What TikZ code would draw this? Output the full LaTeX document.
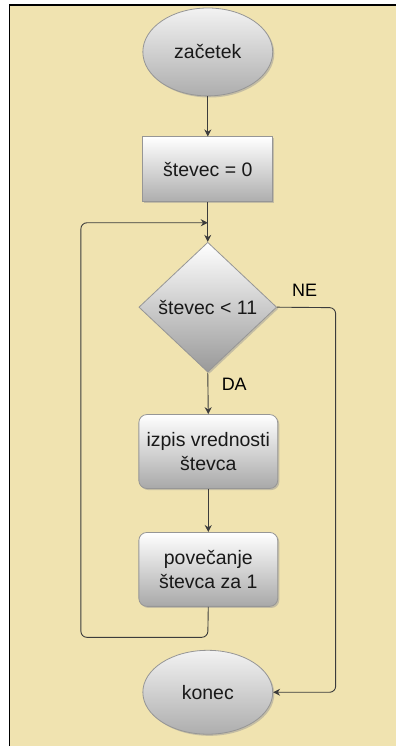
\documentclass[tikz,border=0pt]{standalone}
\usepackage{fontspec}
\setmainfont{Liberation Sans}
\usetikzlibrary{shapes.geometric,shadows,arrows.meta}
\definecolor{paper}{RGB}{240,227,176}
\definecolor{edgegray}{RGB}{150,150,150}
\definecolor{linegray}{RGB}{60,60,60}
\tikzset{
  x=1pt, y=-1pt,
  base/.style={draw=edgegray, line width=0.8pt, inner sep=0pt, align=center,
    font=\fontsize{19.5}{23.5}\selectfont, text=black!90,
    drop shadow={shadow xshift=1.6pt, shadow yshift=-1.6pt, fill=black!40, opacity=0.5}},
  terminal/.style={base, ellipse, minimum width=130pt, minimum height=88pt,
    top color=white!95!black, bottom color=white!68!black},
  plainbox/.style={base, rectangle, minimum width=130pt, minimum height=65pt,
    top color=white, bottom color=white!68!black},
  roundbox/.style={base, rectangle, rounded corners=8pt, minimum width=139pt, minimum height=74pt,
    top color=white, bottom color=white!66!black},
  decision/.style={base, diamond, minimum width=138pt, minimum height=130pt,
    top color=white, bottom color=white!60!black},
  flow/.style={draw=linegray, line width=0.9pt, -{Stealth[length=7pt,width=7pt]}},
  flowplain/.style={draw=linegray, line width=0.9pt},
  lbl/.style={font=\fontsize{18}{20}\selectfont, text=black, inner sep=0pt}
}
\begin{document}
\begin{tikzpicture}
  % page and frame
  \fill[white] (0,0) rectangle (396,747);
  \fill[paper] (9,5) rectangle (396,747);
  \draw[black, line width=1.6pt] (9.5,747) -- (9.5,5) -- (396,5);
  \useasboundingbox (0,0) rectangle (396,747);

  % nodes
  \node[terminal] (start) at (208,52) {začetek};
  \node[plainbox] (init) at (208,169.5) {števec = 0};
  \node[decision] (dec) at (208,307.5) {števec < 11};
  \node[roundbox] (out) at (208.5,452) {izpis vrednosti\\števca};
  \node[roundbox] (inc) at (208.5,570) {povečanje\\števca za 1};
  \node[terminal, minimum height=84pt] (end) at (208,693) {konec};

  % junction and routing points
  \coordinate (join) at (208,223);
  \coordinate (loopbot) at (208,638);
  \coordinate (loopleft) at (81,638);
  \coordinate (neturn) at (336,308);

  % connectors
  \draw[flow] (start) -- (init);
  \draw[flowplain] (init) -- (join);
  \draw[flow] (join) -- (dec.north);
  \draw[flow] (dec.south) -- (out.north);
  \draw[flow] (out) -- (inc);
  \draw[flow, rounded corners=6pt] (inc.south) -- (loopbot) -- (loopleft) |- (join);
  \draw[flow, rounded corners=6pt] (dec.east) -- (neturn) |- (end.east);

  % branch labels
  \node[lbl] (da) at (234.5,385) {DA};
  \node[lbl] (ne) at (305,291) {NE};
\end{tikzpicture}
\end{document}
